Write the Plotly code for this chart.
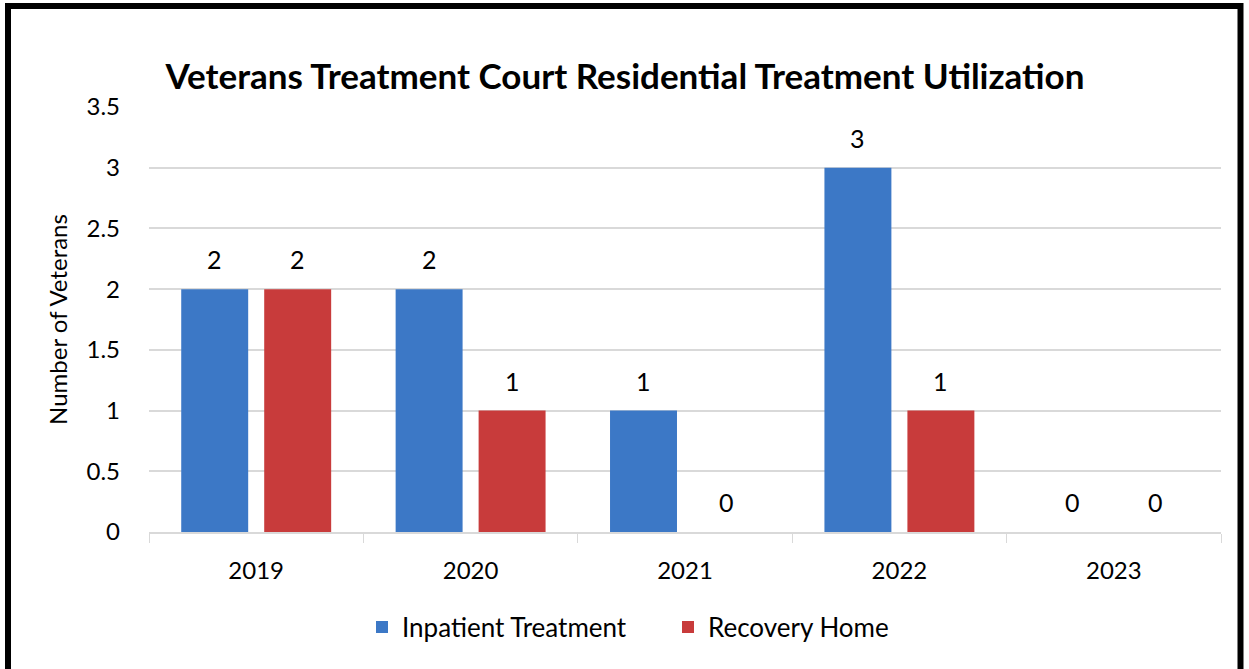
import plotly.graph_objects as go

years = ["2019", "2020", "2021", "2022", "2023"]
inpatient = [2, 2, 1, 3, 0]
recovery = [2, 1, 0, 1, 0]
series_names = ["Inpatient Treatment", "Recovery Home"]

FONT = "Lato, Open Sans, sans-serif"
BARGAP = 0.226
GROUPGAP = 0.193
PLOT_W = 1072
SLOT_PX = PLOT_W / len(years) * (1 - BARGAP) / 2

fig = go.Figure()
fig.add_trace(go.Bar(
    x=years, y=inpatient, name=series_names[0],
    marker=dict(color="#3c78c6", line=dict(width=0)),
))
fig.add_trace(go.Bar(
    x=years, y=recovery, name=series_names[1],
    marker=dict(color="#c83b3b", line=dict(width=0)),
))

# data labels (category axis: positions given by category index)
for vals, side in ((inpatient, -1), (recovery, 1)):
    for i, v in enumerate(vals):
        fig.add_annotation(x=i, y=v, xref="x", yref="y", text=str(v), showarrow=False,
                           xshift=side * SLOT_PX / 2, yshift=30,
                           yanchor="middle", xanchor="center",
                           font=dict(size=25, color="black", family=FONT))

fig.update_layout(
    width=1249, height=669,
    margin=dict(l=149, r=28, t=107, b=137),
    paper_bgcolor="white", plot_bgcolor="white",
    font=dict(family=FONT, size=24, color="black"),
    barmode="group", bargap=BARGAP, bargroupgap=GROUPGAP,
    title=dict(text="<b>Veterans Treatment Court Residential Treatment Utilization</b>",
               x=625 / 1249, xref="container", xanchor="center",
               y=1 - 77 / 669, yref="container", yanchor="middle",
               font=dict(size=35, color="black", family=FONT)),
    legend=dict(orientation="h", x=(362 - 149) / 1072, xanchor="left",
                y=(532 - 627) / 425, yanchor="middle",
                font=dict(size=26), itemsizing="constant", traceorder="normal",
                itemwidth=30, entrywidth=261, entrywidthmode="pixels"),
    showlegend=True,
)
fig.update_xaxes(
    type="category", categoryorder="array", categoryarray=years,
    range=[-0.5, len(years) - 0.5],
    showline=True, linecolor="#d9d9d9", linewidth=1.5,
    ticks="outside", tickson="boundaries", ticklen=9, tickcolor="#d9d9d9",
    tickfont=dict(size=24), showgrid=False, ticklabelstandoff=16,
)
fig.update_yaxes(
    range=[0, 3.5], dtick=0.5,
    showgrid=True, gridcolor="#d9d9d9", gridwidth=1.5,
    zeroline=False, showline=False,
    tickfont=dict(size=24), ticklabelstandoff=28,
    title=dict(text="Number of Veterans", font=dict(size=24), standoff=12),
)
fig.add_shape(type="rect", xref="paper", yref="paper",
              x0=(8 - 149) / 1072, x1=(1240.5 - 149) / 1072,
              y0=(532 - 700) / 425, y1=(532 - 6) / 425,
              line=dict(color="black", width=6), fillcolor="rgba(0,0,0,0)", layer="above")

fig.write_html("out.html", post_script="document.body.style.margin='0';",
               config={"displayModeBar": False})
